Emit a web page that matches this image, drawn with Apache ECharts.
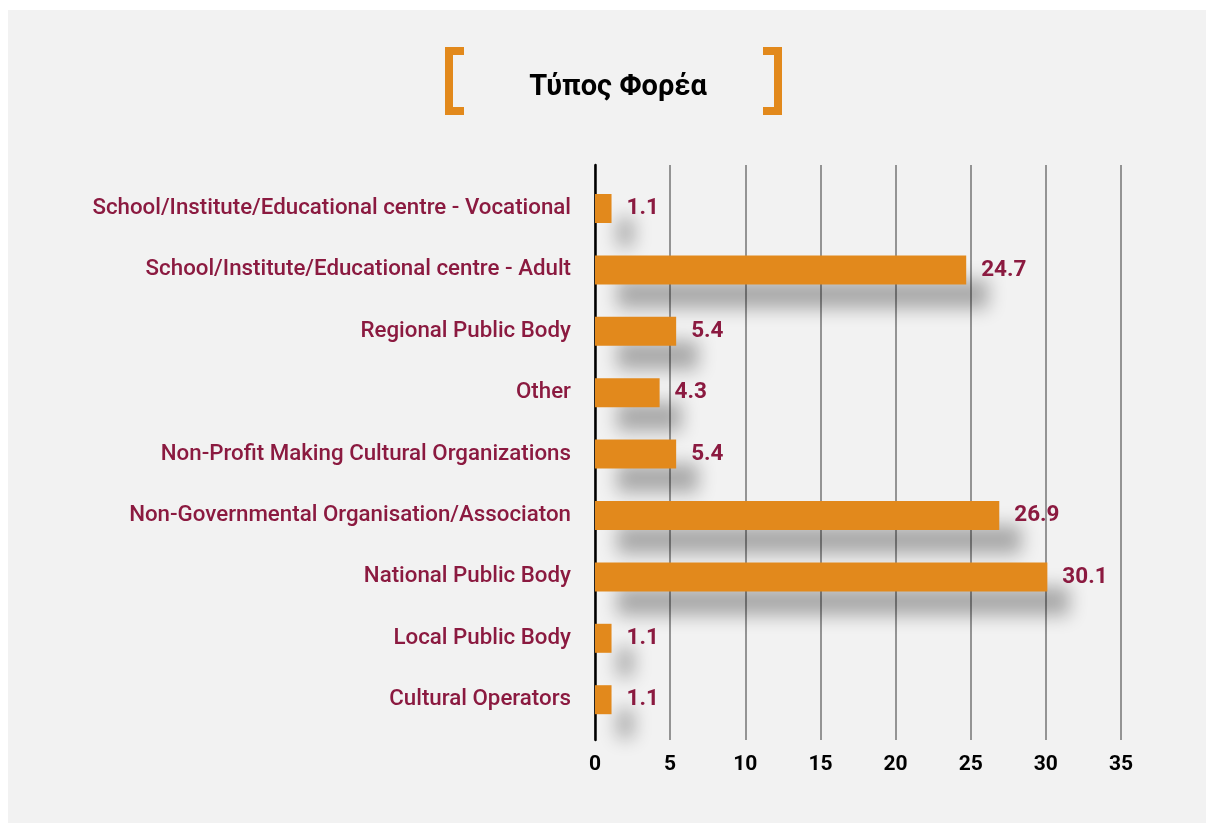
<!DOCTYPE html>
<html>
<head>
<meta charset="utf-8">
<script src="https://cdn.jsdelivr.net/npm/echarts@6/dist/echarts.min.js"></script>
<style>
html,body{margin:0;padding:0;background:#fff;}
#main{width:1206px;height:823px;}
</style>
</head>
<body>
<div id="main"></div>
<script>
// categories, top to bottom
var categories = [
	'School/Institute/Educational centre - Vocational',
	'School/Institute/Educational centre - Adult',
	'Regional Public Body',
	'Other',
	'Non-Profit Making Cultural Organizations',
	'Non-Governmental Organisation/Associaton',
	'National Public Body',
	'Local Public Body',
	'Cultural Operators'
];
var values = [1.1, 24.7, 5.4, 4.3, 5.4, 26.9, 30.1, 1.1, 1.1];
var xTicks = [0, 5, 10, 15, 20, 25, 30, 35];
var title = 'Τύπος Φορέα';

var orange = '#e2891c';
var crimson = '#8b1a40';
var font = 'Roboto, "Noto Sans", sans-serif';

var myChart = echarts.init(document.getElementById('main'));

var option = {
	backgroundColor: '#ffffff',
	animation: false,
	title: {
		text: title,
		left: 613,
		top: 68,
		textAlign: 'center',
		textStyle: {color: '#000', fontSize: 29, fontWeight: 'bold', fontFamily: font}
	},
	graphic: [
		// grey panel
		{type: 'rect', left: 8, top: 10, z: -10, shape: {width: 1198, height: 813}, style: {fill: '#f2f2f2'}},
		// left bracket
		{type: 'rect', left: 445, top: 47, shape: {width: 8, height: 68}, style: {fill: orange}},
		{type: 'rect', left: 445, top: 47, shape: {width: 19, height: 8}, style: {fill: orange}},
		{type: 'rect', left: 445, top: 107, shape: {width: 19, height: 8}, style: {fill: orange}},
		// right bracket
		{type: 'rect', left: 774, top: 47, shape: {width: 8, height: 68}, style: {fill: orange}},
		{type: 'rect', left: 763, top: 47, shape: {width: 19, height: 8}, style: {fill: orange}},
		{type: 'rect', left: 763, top: 107, shape: {width: 19, height: 8}, style: {fill: orange}}
	],
	grid: [
		{left: 595, right: 85, top: 165, bottom: 83},
		{left: 595, right: 85, top: 177.8, bottom: 92.6}
	],
	xAxis: [{
		gridIndex: 0,
		type: 'value',
		min: xTicks[0],
		max: xTicks[xTicks.length - 1],
		interval: xTicks[1] - xTicks[0],
		axisLine: {show: false},
		axisTick: {show: false},
		axisLabel: {color: '#000', fontSize: 21, fontWeight: 'bold', fontFamily: font, margin: 14},
		splitLine: {show: true, lineStyle: {color: '#747474', width: 1.5}}
	}, {
		gridIndex: 1,
		type: 'value',
		min: xTicks[0],
		max: xTicks[xTicks.length - 1],
		show: false,
		splitLine: {show: false}
	}],
	yAxis: [{
		gridIndex: 0,
		type: 'value',
		min: 0,
		max: 1,
		axisLine: {show: true, onZero: false, lineStyle: {color: '#000', width: 2.5}},
		axisTick: {show: false},
		axisLabel: {show: false},
		splitLine: {show: false}
	}, {
		gridIndex: 1,
		type: 'category',
		inverse: true,
		data: categories,
		axisLine: {show: false},
		axisTick: {show: false},
		axisLabel: {color: crimson, fontSize: 22.3, fontWeight: 500, fontFamily: font, margin: 24},
		splitLine: {show: false}
	}],
	series: [{
		type: 'bar',
		xAxisIndex: 1,
		yAxisIndex: 1,
		data: values,
		barWidth: 29,
		itemStyle: {
			color: orange,
			shadowColor: 'rgba(0,0,0,0.3)',
			shadowBlur: 18,
			shadowOffsetX: 22,
			shadowOffsetY: 24
		},
		label: {
			show: true,
			position: 'right',
			distance: 15,
			color: crimson,
			fontSize: 22.5,
			fontWeight: 'bold',
			fontFamily: font
		}
	}]
};
myChart.setOption(option, true);
</script>
</body>
</html>
